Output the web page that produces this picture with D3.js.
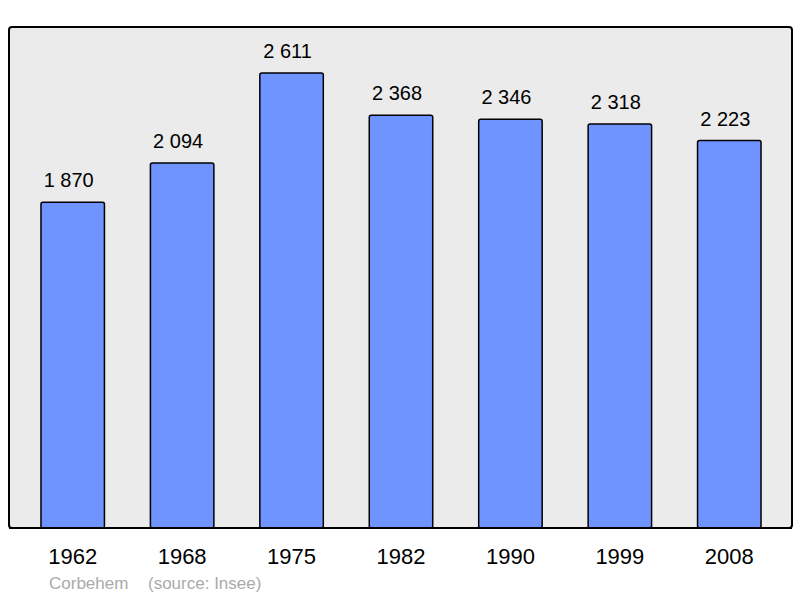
<!DOCTYPE html>
<html>
<head>
<meta charset="utf-8">
<script src="https://cdn.jsdelivr.net/npm/d3@7"></script>
<style>
  body { margin: 0; background: #fff; }
  svg text { font-family: "Liberation Sans", Arial, sans-serif; }
</style>
</head>
<body>
<div id="chart"></div>
<script>
// population figures
var years = ["1962", "1968", "1975", "1982", "1990", "1999", "2008"];
var population = [1870, 2094, 2611, 2368, 2346, 2318, 2223];
var town = "Corbehem";
var source = "(source: Insee)";

var width = 800,
    height = 598;

var svg = d3.select("#chart")
    .append("svg")
    .attr("width", width)
    .attr("height", height);

// grey panel behind the bars
svg.append("rect")
    .attr("x", 9)
    .attr("y", 27)
    .attr("width", 783)
    .attr("height", 501)
    .attr("rx", 3)
    .attr("fill", "#ebebeb")
    .attr("stroke", "black")
    .attr("stroke-width", 2);

var x = d3.scaleBand()
    .domain(years)
    .range([18, 784])
    .paddingInner(0.42)
    .paddingOuter(0.21);

var y = d3.scaleLinear()
    .domain([0, 2875])
    .range([528, 27]);

// Bars
svg.selectAll("bars")
    .data(years)
    .enter()
    .append("rect")
    .attr("x", function (d) { return x(d); })
    .attr("y", function (d, i) { return y(population[i]); })
    .attr("width", x.bandwidth())
    .attr("height", function (d, i) { return y(0) - y(population[i]); })
    .attr("rx", 2)
    .attr("fill", "#7094ff")
    .attr("stroke", "black")
    .attr("stroke-width", 1.5);

// redraw the bottom edge of the panel over the bars
svg.append("line")
    .attr("x1", 9)
    .attr("x2", 792)
    .attr("y1", 528)
    .attr("y2", 528)
    .attr("stroke", "black")
    .attr("stroke-width", 2);

// value labels above bars (space as thousands separator), sitting a bit left of centre
svg.selectAll("values")
    .data(years)
    .enter()
    .append("text")
    .attr("x", function (d) { return x(d) + x.bandwidth() / 2 - 4; })
    .attr("y", function (d, i) { return y(population[i]) - 15; })
    .attr("text-anchor", "middle")
    .style("font-size", "20px")
    .text(function (d, i) { return d3.format(",")(population[i]).replace(",", " "); });

// year labels under the panel
svg.selectAll("years")
    .data(years)
    .enter()
    .append("text")
    .attr("x", function (d) { return x(d) + x.bandwidth() / 2; })
    .attr("y", 564)
    .attr("text-anchor", "middle")
    .style("font-size", "22px")
    .text(function (d) { return d; });

// footer
svg.append("text")
    .attr("x", 49)
    .attr("y", 589)
    .attr("fill", "#aaaaaa")
    .style("font-size", "17px")
    .text(town);
svg.append("text")
    .attr("x", 148)
    .attr("y", 589)
    .attr("fill", "#aaaaaa")
    .style("font-size", "17px")
    .text(source);
</script>
</body>
</html>
